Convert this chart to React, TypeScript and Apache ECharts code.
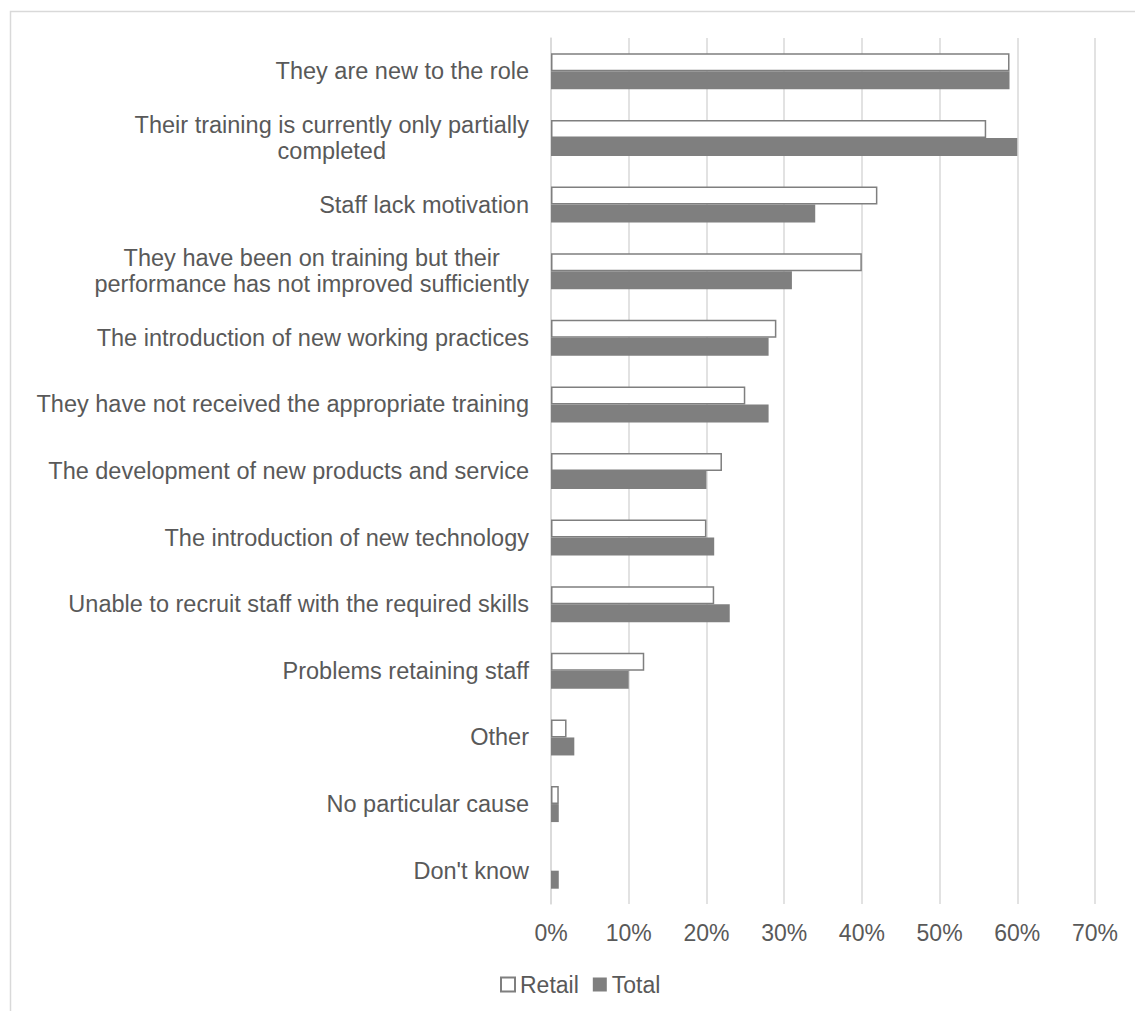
import React, { useEffect, useRef } from "react";
import * as echarts from "echarts";

const categories = [
  "They are new to the role",
  "Their training is currently only partially\ncompleted",
  "Staff lack motivation",
  "They have been on training but their\nperformance has not improved sufficiently",
  "The introduction of new working practices",
  "They have not received the appropriate training",
  "The development of new products and service",
  "The introduction of new technology",
  "Unable to recruit staff with the required skills",
  "Problems retaining staff",
  "Other",
  "No particular cause",
  "Don't know",
];

const retailValues = [59, 56, 42, 40, 29, 25, 22, 20, 21, 12, 2, 1, 0];
const totalValues = [59, 60, 34, 31, 28, 28, 20, 21, 23, 10, 3, 1, 1];

const xTicks = { min: 0, max: 70, interval: 10 };

const FONT = "'Liberation Sans', Arial, sans-serif";
const TEXT = "#595959";
const GRID = "#d9d9d9";
const BAR = "#7f7f7f";
const FS = 23;
const CAT_FS = 23.5;

export default function App() {
  const ref = useRef<HTMLDivElement>(null);

  useEffect(() => {
    if (!ref.current) return;
    const chart = echarts.init(ref.current, undefined, { renderer: "svg" });
    chart.setOption({
      animation: false,
      backgroundColor: "#ffffff",
      textStyle: { fontFamily: FONT },
      graphic: [
        {
          type: "rect",
          shape: { x: 10.5, y: 11.5, width: 1200, height: 1100 },
          style: { fill: "none", stroke: GRID, lineWidth: 1.5 },
          silent: true,
          z: -10,
        },
      ],
      grid: { left: 551, right: 40, top: 38, bottom: 107, containLabel: false },
      legend: {
        data: ["Retail", "Total"],
        left: 495,
        top: 968,
        itemWidth: 14,
        itemHeight: 14,
        itemGap: 14,
        icon: "rect",
        textStyle: { fontSize: FS, color: TEXT, fontFamily: FONT },
      },
      xAxis: {
        type: "value",
        min: xTicks.min,
        max: xTicks.max,
        interval: xTicks.interval,
        axisLine: { show: false },
        axisTick: { show: false },
        axisLabel: {
          formatter: "{value}%",
          color: TEXT,
          fontSize: FS,
          fontFamily: FONT,
          margin: 17,
        },
        splitLine: { show: true, lineStyle: { color: GRID, width: 1.5 } },
      },
      yAxis: {
        type: "category",
        data: categories,
        inverse: true,
        axisLine: { show: true, lineStyle: { color: GRID, width: 1.5 } },
        axisTick: { show: false },
        axisLabel: {
          color: TEXT,
          fontSize: CAT_FS,
          fontFamily: FONT,
          margin: 22,
          lineHeight: 26,
          align: "right",
          formatter: (v: string) =>
            v.indexOf("\n") >= 0
              ? v
                  .split("\n")
                  .map((l) => "{c|" + l + "}")
                  .join("\n")
              : v,
          rich: {
            c: {
              align: "center",
              color: TEXT,
              fontSize: CAT_FS,
              fontFamily: FONT,
              lineHeight: 26,
            },
          },
        },
      },
      series: [
        {
          name: "Retail",
          type: "bar",
          data: retailValues.map((v) =>
            v === 0 ? { value: v, itemStyle: { borderWidth: 0 } } : v
          ),
          barWidth: 18,
          barGap: "0%",
          itemStyle: { color: "#ffffff", borderColor: BAR, borderWidth: 1.5 },
        },
        {
          name: "Total",
          type: "bar",
          data: totalValues,
          barWidth: 18,
          barGap: "0%",
          itemStyle: { color: BAR },
        },
      ],
    });
    return () => chart.dispose();
  }, []);

  return (
    <div
      ref={ref}
      style={{ position: "fixed", left: 0, top: 0, width: 1135, height: 1011 }}
    />
  );
}
